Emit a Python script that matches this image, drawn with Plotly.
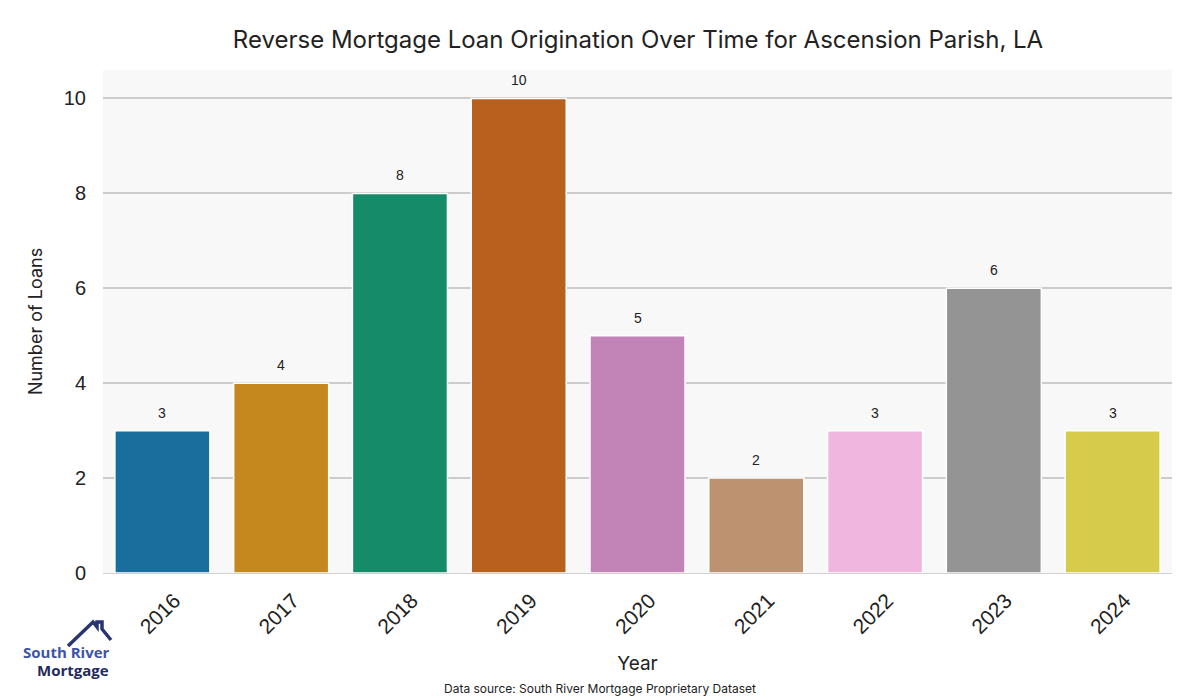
import plotly.graph_objects as go

years = ["2016", "2017", "2018", "2019", "2020", "2021", "2022", "2023", "2024"]
loans = [3, 4, 8, 10, 5, 2, 3, 6, 3]
colors = ["#1a6e9e", "#c4881f", "#158b6a", "#b8601e", "#c283b6",
          "#bc9270", "#f0b6e0", "#949494", "#d6cb4a"]

title_font = "Inter, 'Open Sans', sans-serif"
tick_font = "'Liberation Sans', Arial, sans-serif"

OFF = 8  # page body margin
W, H = 1200 - OFF, 700 - OFF
ML, MR, MT, MB = 103 - OFF, 28, 70 - OFF, 127
PW, PH = W - ML - MR, H - MT - MB


def px(x):
    return (x - OFF - ML) / PW


def py(y):
    return (H - MB - (y - OFF)) / PH


fig = go.Figure()
fig.add_trace(go.Bar(
    x=years, y=loans,
    marker=dict(color=colors, line=dict(color="white", width=1.5)),
    width=0.8,
    hoverinfo="x+y",
))

for i, v in enumerate(loans):
    fig.add_annotation(x=i, y=v, text=str(v), showarrow=False,
                       xref="x", yref="y",
                       yshift=18, yanchor="middle",
                       font=dict(family=tick_font, size=14, color="#222"))

fig.update_layout(
    width=W, height=H,
    margin=dict(l=ML, r=MR, t=MT, b=MB, autoexpand=False),
    paper_bgcolor="white",
    plot_bgcolor="#f8f8f8",
    showlegend=False,
    title=dict(text="Reverse Mortgage Loan Origination Over Time for Ascension Parish, LA",
               x=(638 - OFF) / W, xanchor="center", y=1 - (40 - OFF) / H, yanchor="middle",
               font=dict(family=title_font, size=24, color="#222"),
               automargin=False),
    xaxis=dict(
        type="category",
        title=dict(text="Year", font=dict(family=title_font, size=19, color="#222"), standoff=19),
        tickangle=-45, tickfont=dict(family=tick_font, size=21, color="#222"),
        ticklabelshift=12, ticklabelstandoff=6,
        showgrid=False, range=[-0.5, 8.5], automargin=False,
        showline=True, linecolor="#d0d0d0", linewidth=1,
    ),
    yaxis=dict(
        title=dict(text="Number of Loans", font=dict(family=title_font, size=18, color="#222"), standoff=16),
        tickfont=dict(family=tick_font, size=20, color="#222"),
        range=[0, 10.6], tickvals=[0, 2, 4, 6, 8, 10], automargin=False,
        showgrid=True, gridcolor="#cccccc", gridwidth=1.5,
        zeroline=False,
        ticks="outside", ticklen=12, tickcolor="rgba(0,0,0,0)",
    ),
)

# Data source note
fig.add_annotation(text="Data source: South River Mortgage Proprietary Dataset",
                   xref="paper", yref="paper", x=px(600), y=py(688),
                   xanchor="center", yanchor="middle", showarrow=False,
                   font=dict(family=title_font, size=12, color="#222"))

# Logo: house outline
pts = [(68, 646), (93, 622), (97, 627), (97, 622), (102, 622), (102, 629), (111, 640)]
path = "M " + " L ".join("{:.5f} {:.5f}".format(px(a), py(b)) for a, b in pts)
fig.add_shape(type="path", xref="paper", yref="paper", path=path,
              line=dict(color="#283371", width=3.5))
fig.add_annotation(text="<b>South River</b>", xref="paper", yref="paper",
                   x=px(66), y=py(652),
                   xanchor="center", yanchor="middle", showarrow=False,
                   font=dict(family="'Open Sans', sans-serif", size=15, color="#3d55a5"))
fig.add_annotation(text="<b>Mortgage</b>", xref="paper", yref="paper",
                   x=px(73), y=py(670),
                   xanchor="center", yanchor="middle", showarrow=False,
                   font=dict(family="'Open Sans', sans-serif", size=15, color="#232a5e"))

fig.write_html("out.html")
